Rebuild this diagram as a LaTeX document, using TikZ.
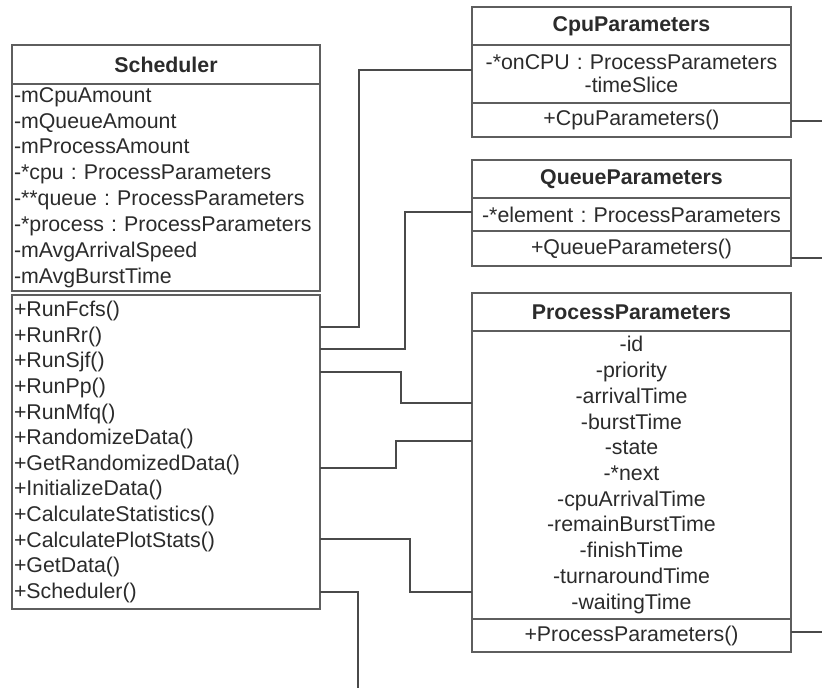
\documentclass[tikz,border=0pt]{standalone}
\usepackage{fontspec}
\setmainfont{Liberation Sans}
\usepackage{xcolor}
\usepackage{tikz}
\usetikzlibrary{positioning}
\frenchspacing
\definecolor{boxline}{HTML}{5E5E5E}
\definecolor{linkline}{HTML}{4A4A4A}
\definecolor{umltext}{HTML}{2B2B2B}
\newcommand{\umlsize}[1]{\fontsize{16}{#1}\selectfont}

\tikzset{
  umlbox/.style={draw=boxline,line width=1.3pt,inner xsep=1.5pt,inner ysep=0pt,outer sep=0pt,text=umltext},
  classhead/.style={umlbox,font=\umlsize{19.2}\bfseries,minimum height=#1,align=center},
  leftpart/.style={umlbox,text width=228pt,align=left,minimum height=#1},
  midpart/.style={umlbox,text width=236.25pt,align=center,minimum height=#1},
  link/.style={draw=linkline,line width=1.1pt}
}

\begin{document}
\begin{tikzpicture}[x=0.75pt,y=-0.75pt]
\useasboundingbox (0,0) rectangle (822,688);
% Scheduler
\node[classhead=29.25pt,minimum width=231pt,anchor=north west] (schedhead) at (12,45) {Scheduler};
\node[leftpart=155.25pt,font=\umlsize{19.4},below=0pt of schedhead] (schedattr)
  {-mCpuAmount\\ -mQueueAmount\\ -mProcessAmount\\ -*cpu : ProcessParameters\\
   -**queue : ProcessParameters\\ -*process : ProcessParameters\\ -mAvgArrivalSpeed\\ -mAvgBurstTime};
\node[leftpart=235.5pt,font=\umlsize{19.2},below=3pt of schedattr] (schedmeth)
  {+RunFcfs()\\ +RunRr()\\ +RunSjf()\\ +RunPp()\\ +RunMfq()\\ +RandomizeData()\\ +GetRandomizedData()\\
   +InitializeData()\\ +CalculateStatistics()\\ +CalculatePlotStats()\\ +GetData()\\ +Scheduler()};
% CpuParameters
\node[classhead=28.5pt,minimum width=239.25pt,anchor=north west] (cpuhead) at (472,7) {CpuParameters};
\node[midpart=43.5pt,font=\umlsize{17.25},below=0pt of cpuhead] (cpuattr)
  {-*onCPU : ProcessParameters\\ -timeSlice};
\node[midpart=25.5pt,font=\umlsize{19.2},below=0pt of cpuattr] (cpumeth) {+CpuParameters()};
% QueueParameters
\node[classhead=28.5pt,minimum width=239.25pt,anchor=north west] (queuehead) at (472,160) {QueueParameters};
\node[midpart=24.75pt,font=\umlsize{19.2},below=0pt of queuehead] (queueattr)
  {-*element : ProcessParameters};
\node[midpart=26.25pt,font=\umlsize{19.2},below=0pt of queueattr] (queuemeth) {+QueueParameters()};
% ProcessParameters
\node[classhead=28.5pt,minimum width=239.25pt,anchor=north west] (prochead) at (472,293) {ProcessParameters};
\node[midpart=216pt,font=\umlsize{19.3},below=0pt of prochead] (procattr)
  {-id\\ -priority\\ -arrivalTime\\ -burstTime\\ -state\\ -*next\\ -cpuArrivalTime\\
   -remainBurstTime\\ -finishTime\\ -turnaroundTime\\ -waitingTime};
\node[midpart=24.75pt,font=\umlsize{19.2},below=0pt of procattr] (procmeth) {+ProcessParameters()};
% loose ends
\coordinate (cpuout) at (822,121);
\coordinate (queueout) at (822,258);
\coordinate (procout) at (822,632);
\coordinate (schedout) at (358,688);
% associations
\draw[link] (schedmeth.east |- 0,327) -| (359,70) -- (cpuattr.west |- 0,70);
\draw[link] (schedmeth.east |- 0,349) -| (405,212) -- (queueattr.west |- 0,212);
\draw[link] (schedmeth.east |- 0,372) -| (401,403) -- (procattr.west |- 0,403);
\draw[link] (schedmeth.east |- 0,468) -| (396,441) -- (procattr.west |- 0,441);
\draw[link] (schedmeth.east |- 0,539) -| (410,592) -- (procattr.west |- 0,592);
\draw[link] (schedmeth.east |- 0,592) -| (schedout);
\draw[link] (cpumeth.east |- cpuout) -- (cpuout);
\draw[link] (queuemeth.east |- queueout) -- (queueout);
\draw[link] (procmeth.east |- procout) -- (procout);
\end{tikzpicture}
\end{document}
